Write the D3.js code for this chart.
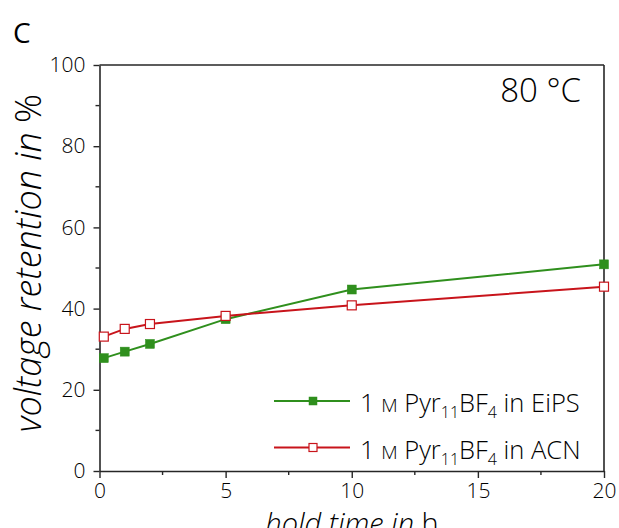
<!DOCTYPE html>
<html>
<head>
<meta charset="utf-8">
<script src="https://cdn.jsdelivr.net/npm/d3@7/dist/d3.min.js"></script>
<style>
  html, body { margin: 0; padding: 0; background: #fff; }
  svg { display: block; font-family: "Open Sans", "Noto Sans", sans-serif; }
</style>
</head>
<body>
<svg id="chart" width="619" height="528"></svg>
<script>
// Hold times (h) and voltage retention (%) for the two electrolytes at 80 °C
const holdTime = [0.17, 1, 2, 5, 10, 20];
const retentionEiPS = [27.8, 29.4, 31.3, 37.4, 44.7, 50.9];
const retentionACN = [33.1, 35.0, 36.2, 38.2, 40.8, 45.4];
const xTicks = [0, 5, 10, 15, 20];
const xMinorTicks = [2.5, 7.5, 12.5, 17.5];
const yTicks = [0, 20, 40, 60, 80, 100];
const yMinorTicks = [10, 30, 50, 70, 90];

const series = [
  { name: "EiPS", values: retentionEiPS, color: "#2f8f1d", filled: true },
  { name: "ACN", values: retentionACN, color: "#c8141b", filled: false }
];

const svg = d3.select("#chart");
const plotLeft = 99.5, plotRight = 604, plotTop = 65, plotBottom = 471;

const x = d3.scaleLinear().domain([0, 20]).range([plotLeft, plotRight]);
const y = d3.scaleLinear().domain([0, 100]).range([plotBottom, plotTop]);

const axisColor = "#262626";
const textColor = "#000";

// Frame (top and right lines)
svg.append("line").attr("x1", plotLeft).attr("x2", plotRight).attr("y1", plotTop).attr("y2", plotTop)
  .attr("stroke", axisColor).attr("stroke-width", 1.6);
svg.append("line").attr("x1", plotRight).attr("x2", plotRight).attr("y1", plotTop).attr("y2", plotBottom)
  .attr("stroke", axisColor).attr("stroke-width", 1.6);

// Bottom axis
const xAxis = svg.append("g").attr("transform", `translate(0,${plotBottom})`)
  .call(d3.axisBottom(x).tickValues(xTicks).tickFormat(d3.format("d")).tickSizeInner(7).tickSizeOuter(0).tickPadding(4));
xAxis.append("g").selectAll("line").data(xMinorTicks).join("line")
  .attr("x1", d => x(d)).attr("x2", d => x(d)).attr("y1", 0).attr("y2", 4)
  .attr("stroke", axisColor).attr("stroke-width", 1.4);

// Left axis
const yAxis = svg.append("g").attr("transform", `translate(${plotLeft},0)`)
  .call(d3.axisLeft(y).tickValues(yTicks).tickFormat(d3.format("d")).tickSizeInner(6).tickSizeOuter(0).tickPadding(8));
yAxis.append("g").selectAll("line").data(yMinorTicks).join("line")
  .attr("x1", 0).attr("x2", -4).attr("y1", d => y(d)).attr("y2", d => y(d))
  .attr("stroke", axisColor).attr("stroke-width", 1.4);

[xAxis, yAxis].forEach(g => {
  g.select(".domain").attr("stroke", axisColor).attr("stroke-width", 1.6);
  g.selectAll(".tick line").attr("stroke", axisColor).attr("stroke-width", 1.4);
  g.selectAll(".tick text").attr("fill", textColor).attr("font-size", 21)
    .attr("font-family", "'Open Sans', 'Noto Sans', sans-serif").attr("font-weight", 300);
});
xAxis.selectAll(".tick text").attr("dy", "0.75em");

// Data lines and markers
const line = d3.line().x((d, i) => x(holdTime[i])).y(d => y(d));
series.forEach(s => {
  svg.append("path").datum(s.values).attr("d", line)
    .attr("fill", "none").attr("stroke", s.color).attr("stroke-width", 2);
  svg.append("g").selectAll("rect").data(s.values).join("rect")
    .attr("x", (d, i) => x(holdTime[i]) - 4.5).attr("y", d => y(d) - 4.5)
    .attr("width", 9).attr("height", 9)
    .attr("fill", s.filled ? s.color : "#fff")
    .attr("stroke", s.color).attr("stroke-width", s.filled ? 0.5 : 1.2);
});

// Legend
const legend = svg.append("g");
series.forEach((s, i) => {
  const ly = 401 + i * 46.5;
  legend.append("line").attr("x1", 274).attr("x2", 350).attr("y1", ly).attr("y2", ly)
    .attr("stroke", s.color).attr("stroke-width", 2);
  legend.append("rect").attr("x", 309).attr("y", ly - 4).attr("width", 8).attr("height", 8)
    .attr("fill", s.filled ? s.color : "#fff").attr("stroke", s.color).attr("stroke-width", s.filled ? 0.5 : 1.2);
  const t = legend.append("text").attr("x", 360).attr("y", ly + 11)
    .attr("font-size", 25.5).attr("fill", textColor).attr("font-weight", 300);
  t.append("tspan").text("1 ");
  t.append("tspan").attr("font-size", 19).text("M");
  t.append("tspan").text(" Pyr");
  t.append("tspan").attr("font-size", 16).attr("dy", 6).text("11");
  t.append("tspan").attr("dy", -6).text("BF");
  t.append("tspan").attr("font-size", 16).attr("dy", 6).text("4");
  t.append("tspan").attr("dy", -6).text(" in " + s.name);
});

// Temperature annotation
svg.append("text").attr("x", 581).attr("y", 102).attr("text-anchor", "end")
  .attr("font-size", 33).attr("fill", textColor).attr("font-weight", 300).text("80 °C");

// Panel letter
svg.append("text").attr("x", 13).attr("y", 43)
  .attr("font-size", 28).attr("fill", textColor).attr("font-weight", 400).text("C");

// Y axis title
const yTitle = svg.append("text")
  .attr("transform", `translate(41,${(plotTop + plotBottom) / 2 - 5}) rotate(-90)`)
  .attr("text-anchor", "middle").attr("font-size", 36).attr("fill", textColor).attr("font-weight", 300);
yTitle.append("tspan").attr("font-style", "italic").text("voltage retention in ");
yTitle.append("tspan").text("%");

// X axis title
const xTitle = svg.append("text")
  .attr("x", 352).attr("y", 534)
  .attr("text-anchor", "middle").attr("font-size", 29).attr("fill", textColor).attr("font-weight", 300);
xTitle.append("tspan").attr("font-style", "italic").text("hold time in ");
xTitle.append("tspan").text("h");
</script>
</body>
</html>
